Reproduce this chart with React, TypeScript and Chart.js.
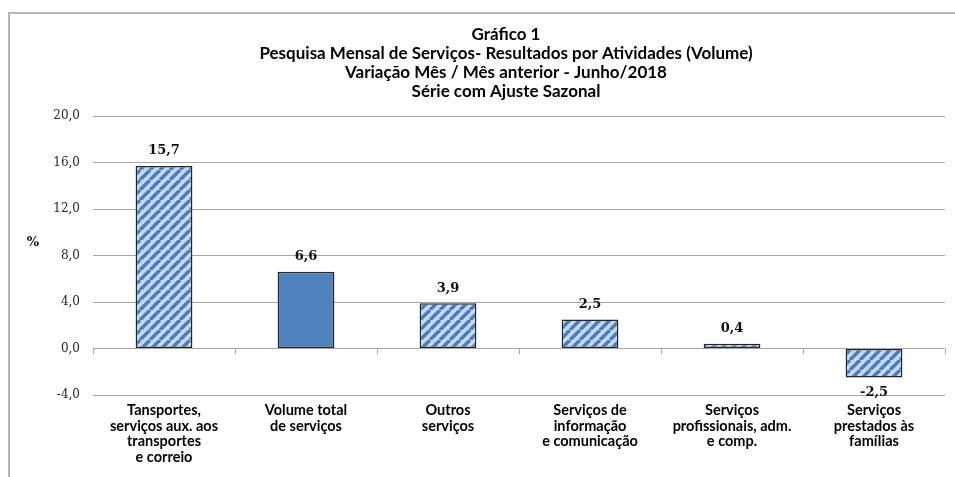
import React, { useEffect, useRef } from 'react';
import { Chart, registerables } from 'chart.js';

Chart.register(...registerables);

const categories: string[][] = [
  ['Tansportes,', 'serviços aux. aos', 'transportes', 'e correio'],
  ['Volume total', 'de serviços'],
  ['Outros', 'serviços'],
  ['Serviços de', 'informação', 'e comunicação'],
  ['Serviços', 'profissionais, adm.', 'e comp.'],
  ['Serviços', 'prestados às', 'famílias'],
];
const values: number[] = [15.7, 6.6, 3.9, 2.5, 0.4, -2.5];
const hatched: boolean[] = [true, false, true, true, true, true];
const titleLines: string[] = [
  'Gráfico 1',
  'Pesquisa Mensal de Serviços- Resultados por Atividades (Volume)',
  'Variação Mês / Mês anterior - Junho/2018',
  'Série com Ajuste Sazonal',
];
const yAxisLabel = '%';
const yMin = -4;
const yMax = 20;
const yStep = 4;

const fmt = (v: number) => v.toFixed(1).replace('.', ',');

function makeHatch(): CanvasPattern | string {
  const s = 10;
  const c = document.createElement('canvas');
  c.width = s;
  c.height = s;
  const g = c.getContext('2d');
  if (!g) return '#c6d9f1';
  g.fillStyle = '#c6d9f1';
  g.fillRect(0, 0, s, s);
  g.strokeStyle = '#4a7ebb';
  g.lineWidth = 3.5;
  g.beginPath();
  for (const o of [-s, 0, s]) {
    g.moveTo(o, s);
    g.lineTo(o + s, 0);
  }
  g.stroke();
  return g.createPattern(c, 'repeat') || '#c6d9f1';
}

const titlePlugin = {
  id: 'titleLines',
  afterDraw(chart: any) {
    const ctx = chart.ctx;
    ctx.save();
    ctx.font = 'bold 17px Lato';
    ctx.fillStyle = '#000';
    ctx.textAlign = 'center';
    ctx.textBaseline = 'middle';
    const cx = 506;
    titleLines.forEach((t, i) => ctx.fillText(t, cx, 35 + i * 19));
    ctx.restore();
  },
};

const valueLabels = {
  id: 'valueLabels',
  afterDatasetsDraw(chart: any) {
    const ctx = chart.ctx;
    const meta = chart.getDatasetMeta(0);
    ctx.save();
    ctx.font = 'bold 13px "DejaVu Serif"';
    ctx.fillStyle = '#111';
    ctx.textAlign = 'center';
    ctx.textBaseline = 'middle';
    meta.data.forEach((bar: any, i: number) => {
      const v = values[i];
      const { x, y } = bar.getProps(['x', 'y'], true);
      ctx.fillText(fmt(v), x, v >= 0 ? y - 15 : y + 15);
    });
    ctx.restore();
  },
};

const yTitle = {
  id: 'yTitle',
  afterDraw(chart: any) {
    const { ctx, chartArea } = chart;
    ctx.save();
    ctx.font = 'bold 13px "DejaVu Serif"';
    ctx.fillStyle = '#111';
    ctx.textAlign = 'center';
    ctx.textBaseline = 'middle';
    ctx.fillText(
      yAxisLabel,
      chartArea.left - 60,
      chartArea.top + (chartArea.bottom - chartArea.top) * 0.455
    );
    ctx.restore();
  },
};

export default function App() {
  const ref = useRef<HTMLCanvasElement | null>(null);

  useEffect(() => {
    if (!ref.current) return;
    const hatch = makeHatch();
    const chart = new Chart(ref.current, {
      type: 'bar',
      data: {
        labels: categories,
        datasets: [
          {
            data: values,
            backgroundColor: values.map((_, i) => (hatched[i] ? hatch : '#4f81bd')) as any,
            borderColor: '#262626',
            borderWidth: 1.5,
            borderSkipped: false,
            barPercentage: 0.4,
            categoryPercentage: 1,
            xAxisID: 'x',
          },
        ],
      },
      options: {
        animation: false,
        responsive: false,
        events: [],
        layout: { padding: { left: 40, right: 10, top: 116, bottom: 0 } },
        plugins: {
          legend: { display: false },
          tooltip: { enabled: false },
          title: { display: false },
        },
        scales: {
          x: {
            type: 'category',
            offset: true,
            grid: { display: false, offset: true, drawTicks: false, tickLength: 0 },
            border: { display: false },
            ticks: {
              color: '#000',
              font: { family: 'Lato', size: 14.5, weight: 'bold', lineHeight: 1.07 },
              padding: 8,
              maxRotation: 0,
              autoSkip: false,
            },
            afterFit: (s: any) => {
              s.height = 82;
            },
          },
          x0: {
            type: 'category',
            position: { y: 0 },
            offset: true,
            grid: {
              display: true,
              drawOnChartArea: false,
              drawTicks: true,
              tickLength: 5,
              color: '#a6a6a6',
              offset: true,
            },
            border: { display: false },
            ticks: { display: false },
          } as any,
          y: {
            min: yMin,
            max: yMax,
            ticks: {
              stepSize: yStep,
              callback: (v: any) => fmt(Number(v)),
              color: '#262626',
              font: { family: 'DejaVu Serif', size: 12 },
              padding: 13,
            },
            grid: { color: '#a6a6a6', drawTicks: false, lineWidth: 1 },
            border: { display: false },
            afterFit: (s: any) => {
              s.width = 53;
            },
          },
        },
      },
      plugins: [valueLabels, yTitle, titlePlugin],
    } as any);
    return () => chart.destroy();
  }, []);

  return (
    <div style={{ position: 'fixed', left: 0, top: 0, width: 955, height: 477, background: '#fff', overflow: 'hidden' }}>
      <div
        style={{
          position: 'absolute',
          left: 8,
          top: 12,
          width: 960,
          height: 480,
          borderTop: '2px solid #b4b4b4',
          borderLeft: '2px solid #b4b4b4',
        }}
      />
      <canvas ref={ref} width={955} height={477} style={{ position: 'absolute', left: 0, top: 0, display: 'block' }} />
    </div>
  );
}
